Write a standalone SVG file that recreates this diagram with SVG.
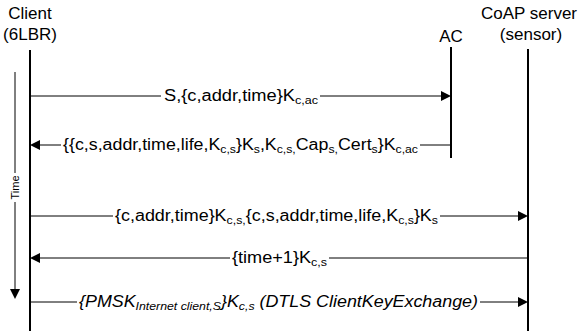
<svg xmlns="http://www.w3.org/2000/svg" width="582" height="335" viewBox="0 0 582 335">
<style>
text{font-family:"Liberation Sans",Arial,sans-serif;fill:#000}
.hd{font-size:17px;text-anchor:middle}
.lb{font-size:16px}
.sb{font-size:11px}
.it{font-style:italic}
.life{stroke:#000;stroke-width:2;fill:none}
.msg{stroke:#000;stroke-width:1;fill:none}
.ah{fill:#000;stroke:none}
</style>
<g id="client">
<text class="hd" x="30" y="19">Client</text>
<text class="hd" x="30" y="39.5">(6LBR)</text>
<line class="life" x1="30" y1="50" x2="30" y2="331"/>
</g>
<g id="ac">
<text class="hd" x="451" y="41.5">AC</text>
<line class="life" x1="451" y1="47" x2="451" y2="158"/>
</g>
<g id="server">
<text class="hd" x="529" y="19">CoAP server</text>
<text class="hd" x="531" y="39.5">(sensor)</text>
<line class="life" x1="528" y1="49" x2="528" y2="331"/>
</g>
<g id="time">
<line class="msg" x1="15" y1="72" x2="15" y2="173"/>
<line class="msg" x1="15" y1="202" x2="15" y2="290"/>
<polygon class="ah" points="10,289 20,289 15,299"/>
<text x="19" y="187.5" font-size="11" text-anchor="middle" transform="rotate(-90 19 187.5)">Time</text>
</g>
<g id="connectors">
<line class="msg" x1="30" y1="96" x2="161" y2="96"/>
<line class="msg" x1="320" y1="96" x2="442" y2="96"/>
<polygon class="ah" points="441,91 451,96 441,101"/>
<text class="lb" x="164" y="101" textLength="154" lengthAdjust="spacingAndGlyphs">S,{c,addr,time}K<tspan class="sb" dy="3">c,ac</tspan></text>

<polygon class="ah" points="40,140 30,145 40,150"/>
<line class="msg" x1="39" y1="145" x2="61" y2="145"/>
<line class="msg" x1="420" y1="145" x2="451" y2="145"/>
<text class="lb" x="63" y="150" textLength="355" lengthAdjust="spacingAndGlyphs">{{c,s,addr,time,life,K<tspan class="sb" dy="3">c,s</tspan><tspan dy="-3">}K</tspan><tspan class="sb" dy="3">s</tspan><tspan dy="-3">,K</tspan><tspan class="sb" dy="3">c,s,</tspan><tspan dy="-3">Cap</tspan><tspan class="sb" dy="3">s,</tspan><tspan dy="-3">Cert</tspan><tspan class="sb" dy="3">s</tspan><tspan dy="-3">}K</tspan><tspan class="sb" dy="3">c,ac</tspan></text>

<line class="msg" x1="30" y1="216" x2="113" y2="216"/>
<line class="msg" x1="440" y1="216" x2="519" y2="216"/>
<polygon class="ah" points="518,211 528,216 518,221"/>
<text class="lb" x="115" y="221" textLength="323" lengthAdjust="spacingAndGlyphs">{c,addr,time}K<tspan class="sb" dy="3">c,s,</tspan><tspan dy="-3">{c,s,addr,time,life,K</tspan><tspan class="sb" dy="3">c,s</tspan><tspan dy="-3">}K</tspan><tspan class="sb" dy="3">s</tspan></text>

<polygon class="ah" points="40,253 30,258 40,263"/>
<line class="msg" x1="39" y1="258" x2="230" y2="258"/>
<line class="msg" x1="329" y1="258" x2="528" y2="258"/>
<text class="lb" x="232" y="263" textLength="95" lengthAdjust="spacingAndGlyphs">{time+1}K<tspan class="sb" dy="3">c,s</tspan></text>

<line class="msg" x1="30" y1="302" x2="77" y2="302"/>
<line class="msg" x1="480" y1="302" x2="519" y2="302"/>
<polygon class="ah" points="518,297 528,302 518,307"/>
<text class="lb it" x="79" y="307" textLength="399" lengthAdjust="spacingAndGlyphs">{PMSK<tspan class="sb" dy="3">Internet client,S</tspan><tspan dy="-3">}K</tspan><tspan class="sb" dy="3">c,s</tspan><tspan dy="-3">  (DTLS ClientKeyExchange)</tspan></text>
</g>
</svg>
